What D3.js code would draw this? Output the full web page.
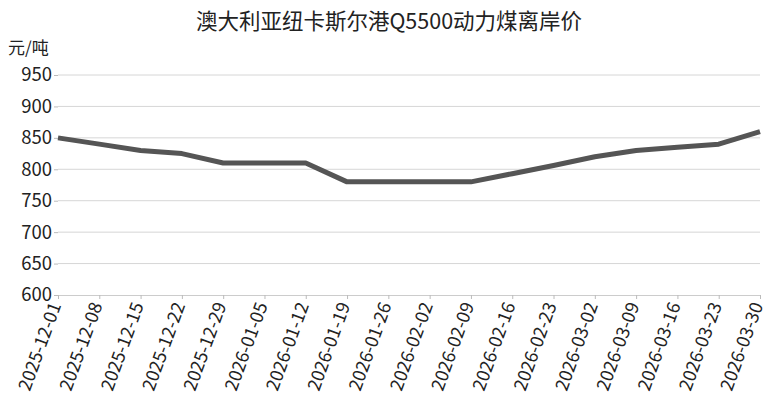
<!DOCTYPE html>
<html><head><meta charset="utf-8">
<script src="https://cdn.jsdelivr.net/npm/d3@7"></script>
<style>body{margin:0;background:#fff;}svg{display:block;font-family:"Noto Sans CJK SC","Noto Sans",sans-serif;}</style>
</head><body>
<svg id="c" width="778" height="403"></svg>
<script>
const dates = ["2025-12-01","2025-12-08","2025-12-15","2025-12-22","2025-12-29","2026-01-05","2026-01-12","2026-01-19","2026-01-26","2026-02-02","2026-02-09","2026-02-16","2026-02-23","2026-03-02","2026-03-09","2026-03-16","2026-03-23","2026-03-30"];
const prices = [850,840,830,825,810,810,810,780,780,780,780,793,806,820,830,835,840,860];
const yTicks = [600,650,700,750,800,850,900,950];
const title = "澳大利亚纽卡斯尔港Q5500动力煤离岸价";
const unit = "元/吨";

const svg = d3.select("#c");
const mLeft = 58, mRight = 760, mTop = 75, mBottom = 295;
const x = d3.scalePoint().domain(dates).range([mLeft, mRight]);
const y = d3.scaleLinear().domain([600, 950]).range([mBottom, mTop]);

svg.append("text").attr("x", 389).attr("y", 29).attr("text-anchor", "middle")
  .attr("font-size", 21.5).attr("fill", "#222").text(title);
svg.append("text").attr("x", 8).attr("y", 54).attr("font-size", 17).attr("fill", "#222").text(unit);

// grid
svg.append("g").selectAll("line").data(yTicks.filter(d => d !== 600)).join("line")
  .attr("x1", mLeft).attr("x2", mRight).attr("y1", d => y(d)).attr("y2", d => y(d))
  .attr("stroke", "#d6d6d6").attr("stroke-width", 1);

// y axis
const ya = svg.append("g").attr("transform", `translate(${mLeft},0)`)
  .call(d3.axisLeft(y).tickValues(yTicks).tickSize(4).tickPadding(2));
ya.select(".domain").remove();
ya.selectAll("line").attr("stroke", "#bbb");
ya.selectAll("text").attr("font-size", 18.5).attr("fill", "#222").attr("font-family", '"Noto Sans CJK SC","Noto Sans",sans-serif');

// x axis
const xa = svg.append("g").attr("transform", `translate(0,${mBottom})`)
  .call(d3.axisBottom(x).tickSize(4).tickSizeOuter(0));
xa.select(".domain").attr("stroke", "#ccc");
xa.selectAll("line").attr("stroke", "#bbb");
xa.selectAll("text").attr("font-size", 18).attr("fill", "#222")
  .attr("font-family", '"Noto Sans CJK SC","Noto Sans",sans-serif')
  .attr("text-anchor", "end").attr("dy", "0.35em")
  .attr("transform", "translate(-3,8) rotate(-70)").attr("y", 0).attr("x", 0);

// line
svg.append("path").datum(prices.map((v, i) => [dates[i], v]))
  .attr("fill", "none").attr("stroke", "#555").attr("stroke-width", 5)
  .attr("stroke-linejoin", "round")
  .attr("d", d3.line().x(d => x(d[0])).y(d => y(d[1])));
</script>
</body></html>
